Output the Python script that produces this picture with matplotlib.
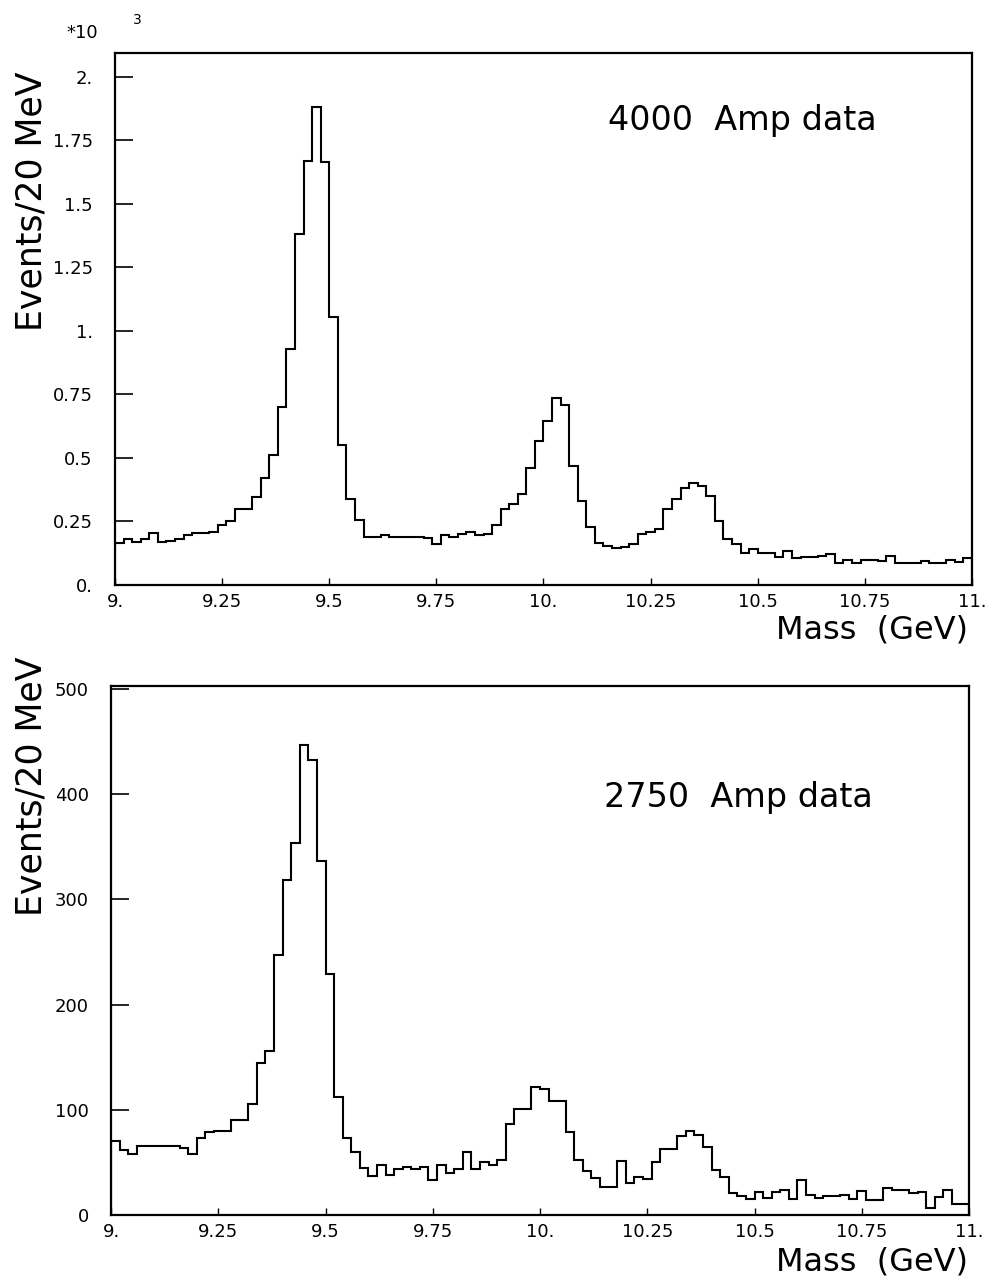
import matplotlib.pyplot as plt

plt.rcParams['font.family'] = ['DejaVu Sans']

W, H = 991, 1280

# 20 MeV bins from 9 to 11 GeV
mass_edges = [round(9.0 + 0.02 * i, 2) for i in range(101)]

# 4000 Amp data, in units of 10^3 events / 20 MeV
amp4000 = [
    0.165, 0.18, 0.168, 0.18, 0.205, 0.168, 0.175, 0.18, 0.195, 0.205,
    0.205, 0.21, 0.235, 0.25, 0.30, 0.30, 0.345, 0.42, 0.51, 0.70,
    0.93, 1.38, 1.67, 1.88, 1.665, 1.055, 0.55, 0.34, 0.255, 0.19,
    0.19, 0.195, 0.19, 0.188, 0.188, 0.188, 0.185, 0.16, 0.195, 0.19,
    0.20, 0.21, 0.195, 0.20, 0.235, 0.30, 0.32, 0.36, 0.46, 0.565,
    0.645, 0.735, 0.71, 0.47, 0.33, 0.23, 0.167, 0.155, 0.147, 0.15,
    0.16, 0.20, 0.21, 0.22, 0.30, 0.34, 0.38, 0.40, 0.39, 0.35,
    0.25, 0.18, 0.16, 0.125, 0.14, 0.125, 0.125, 0.11, 0.134, 0.105,
    0.11, 0.11, 0.114, 0.122, 0.085, 0.10, 0.085, 0.10, 0.10, 0.095,
    0.114, 0.088, 0.088, 0.088, 0.096, 0.088, 0.088, 0.10, 0.092, 0.105,
]

# 2750 Amp data, events / 20 MeV
amp2750 = [
    70, 62, 58, 66, 66, 66, 66, 66, 64, 58,
    73, 79, 80, 80, 90, 90, 106, 145, 156, 247,
    319, 354, 447, 433, 337, 229, 112, 73, 60, 45,
    37, 48, 38, 44, 46, 44, 46, 33, 48, 40,
    44, 60, 44, 50, 48, 52, 87, 101, 101, 122,
    120, 108, 108, 79, 52, 42, 35, 27, 27, 51,
    30, 36, 34, 50, 63, 63, 75, 80, 76, 65,
    43, 36, 21, 18, 15, 22, 16, 22, 24, 15,
    33, 19, 16, 18, 18, 19, 15, 23, 14, 14,
    26, 24, 24, 21, 22, 7, 17, 24, 10, 10,
]

x_ticks = [9.0, 9.25, 9.5, 9.75, 10.0, 10.25, 10.5, 10.75, 11.0]
x_labels = ['9.', '9.25', '9.5', '9.75', '10.', '10.25', '10.5', '10.75', '11.']
top_yticks = [0, 0.25, 0.5, 0.75, 1.0, 1.25, 1.5, 1.75, 2.0]
top_ylabels = ['0.', '0.25', '0.5', '0.75', '1.', '1.25', '1.5', '1.75', '2.']
bot_yticks = [0, 100, 200, 300, 400, 500]
bot_ylabels = ['0', '100', '200', '300', '400', '500']


def frame(left, top, right, bottom):
    return fig.add_axes([left / W, 1 - bottom / H, (right - left) / W, (bottom - top) / H])


def style(ax, ymax, yticks, ylabels):
    ax.set_xlim(9.0, 11.0)
    ax.set_ylim(0, ymax)
    ax.set_xticks(x_ticks)
    ax.set_xticklabels(x_labels)
    ax.set_yticks(yticks)
    ax.set_yticklabels(ylabels)
    ax.tick_params(axis='y', direction='in', length=13, width=1.2, labelsize=13, pad=16)
    ax.tick_params(axis='x', direction='in', length=5, width=1.0, labelsize=13, pad=6)
    for s in ax.spines.values():
        s.set_linewidth(1.6)


fig = plt.figure(figsize=(W / 100, H / 100), dpi=100)

ax1 = frame(115, 53, 972, 585)
ax1.stairs(amp4000, mass_edges, color='black', linewidth=1.5)
style(ax1, 2.094, top_yticks, top_ylabels)
ax1.text(0.575, 0.874, '4000  Amp data', transform=ax1.transAxes, fontsize=24,
         va='center')

ax2 = frame(111, 686, 969, 1215)
ax2.stairs(amp2750, mass_edges, color='black', linewidth=1.5)
style(ax2, 503, bot_yticks, bot_ylabels)
ax2.text(0.575, 0.79, '2750  Amp data', transform=ax2.transAxes, fontsize=24,
         va='center')

# y axis titles and x axis titles
fig.text(32 / W, 1 - 201 / H, 'Events/20 MeV', rotation=90, fontsize=25,
         ha='center', va='center')
fig.text(32 / W, 1 - 786 / H, 'Events/20 MeV', rotation=90, fontsize=25,
         ha='center', va='center')
fig.text(968 / W, 1 - 630 / H, 'Mass  (GeV)', fontsize=23, ha='right', va='center')
fig.text(968 / W, 1 - 1262 / H, 'Mass  (GeV)', fontsize=23, ha='right', va='center')

# exponent of the top panel
fig.text(82 / W, 1 - 33 / H, '*10', fontsize=13, ha='center', va='center')
fig.text(137 / W, 1 - 20 / H, '3', fontsize=10, ha='center', va='center')

fig.savefig('out.png', dpi=100)
